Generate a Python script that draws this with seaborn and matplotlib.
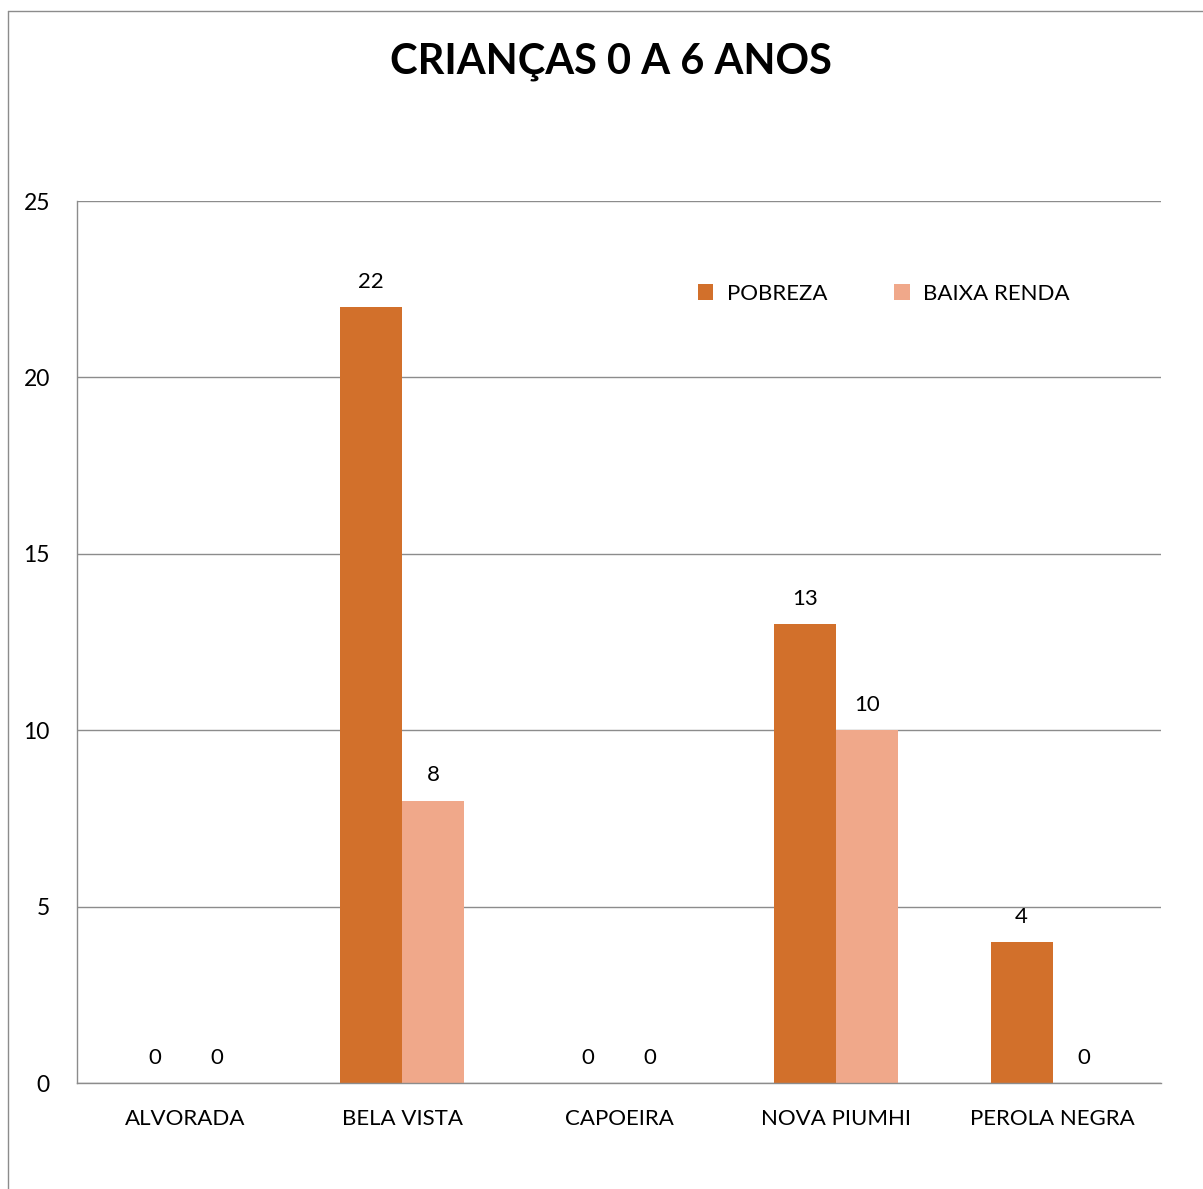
import matplotlib
matplotlib.use("Agg")
import matplotlib.pyplot as plt
import seaborn as sns
import pandas as pd
from matplotlib.lines import Line2D

categories = ["ALVORADA", "BELA VISTA", "CAPOEIRA", "NOVA PIUMHI", "PEROLA NEGRA"]
pobreza = [0, 22, 0, 13, 4]
baixa_renda = [0, 8, 0, 10, 0]
series_names = ["POBREZA", "BAIXA RENDA"]
title = "CRIANÇAS 0 A 6 ANOS"
yticks = [0, 5, 10, 15, 20, 25]

df = pd.DataFrame({
    "cat": categories * 2,
    "val": pobreza + baixa_renda,
    "serie": [series_names[0]] * len(categories) + [series_names[1]] * len(categories),
})

sns.set_theme(style="white")
plt.rcParams['font.family'] = ['Lato', 'DejaVu Sans']
plt.rcParams['text.color'] = 'black'
plt.rcParams['xtick.color'] = 'black'
plt.rcParams['ytick.color'] = 'black'

W, H = 1203, 1189
fig = plt.figure(figsize=(W / 100, H / 100), dpi=100)
ax = fig.add_axes([77 / W, 1 - 1083 / H, (1161 - 77) / W, (1083 - 201) / H])

colors = ["#D2702B", "#F0A88A"]
sns.barplot(data=df, x="cat", y="val", hue="serie", palette=colors, width=0.572,
            saturation=1, ax=ax, legend=True, linewidth=0)

ax.set_ylim(0, 25)
ax.set_xlim(-0.5, len(categories) - 0.5)
ax.set_yticks(yticks)
ax.set_yticklabels([str(t) for t in yticks], fontsize=16.5)
ax.tick_params(axis="x", labelsize=16, pad=19, length=0, labelcolor="black")
ax.tick_params(axis="y", pad=19.5, length=0, labelcolor="black")
ax.set_xlabel("")
ax.set_ylabel("")
ax.yaxis.grid(True, color="#8c8c8c", linewidth=1)
ax.set_axisbelow(True)
for s in ["top", "right"]:
    ax.spines[s].set_visible(False)
ax.spines["left"].set_color("#8c8c8c")
ax.spines["bottom"].set_color("#8c8c8c")
ax.spines["left"].set_linewidth(1)
ax.spines["bottom"].set_linewidth(1)

for cont in ax.containers:
    ax.bar_label(cont, fmt="%d", padding=11, fontsize=16, color="black")

handles, labels = ax.get_legend_handles_labels()
leg = ax.legend(handles, labels, ncol=2, frameon=False, fontsize=16,
                loc="upper left", bbox_to_anchor=((689 - 77) / (1161 - 77), (1083 - 275) / (1083 - 201)),
                handlelength=0.7, handleheight=0.7, handletextpad=0.6, columnspacing=3.0,
                borderaxespad=0)
for t in leg.get_texts():
    t.set_color("black")

fig.text(611 / W, 1 - 62 / H, title, ha="center", va="center", fontsize=30,
         fontweight="bold", color="black")

fig.add_artist(Line2D([7.5 / W, 7.5 / W], [0, 1 - 10.5 / H], transform=fig.transFigure, color="#8c8c8c", linewidth=1))
fig.add_artist(Line2D([7.5 / W, 1], [1 - 10.5 / H, 1 - 10.5 / H], transform=fig.transFigure, color="#8c8c8c", linewidth=1))

fig.savefig("out.png", dpi=100, facecolor="white")
